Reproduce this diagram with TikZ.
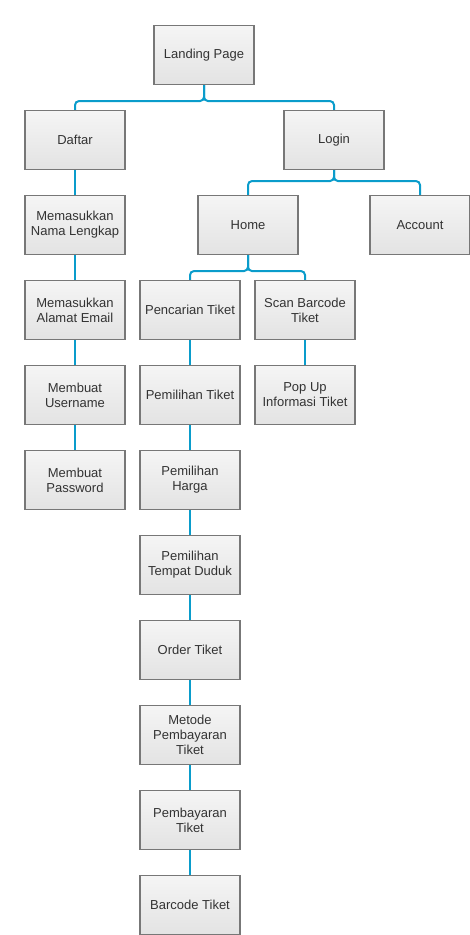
\documentclass[tikz,border=0pt]{standalone}
\usepackage{fontspec}
\setmainfont{Liberation Sans}
\usetikzlibrary{positioning}
\definecolor{linkblue}{HTML}{0A9CCB}
\definecolor{boxline}{HTML}{777777}
\definecolor{boxtext}{HTML}{333333}

\begin{document}
\begin{tikzpicture}[
	x=1pt, y=1pt,
	node distance=24.9pt and 15pt,
	box/.style = {draw=boxline, line width=1.1pt, top color=black!4, bottom color=black!11,
		minimum width=100pt, minimum height=59pt, inner sep=2pt, align=center,
		text=boxtext, font=\fontsize{13}{15}\selectfont},
	link/.style = {draw=linkblue, line width=2pt, rounded corners=4pt}
     ]
		\useasboundingbox (0,0) rectangle (470,-935);
%
		\node[box] (land) at (204,-55) {Landing Page};
		\node[box] (daftar) at (75,-140) {Daftar};
		\node[box] (login) at (334,-140) {Login};
		\node[box] (home) at (248,-225) {Home};
		\node[box] (account) at (420,-225) {Account};
%
		\node[box, below=of daftar] (nama) {Memasukkan\\Nama Lengkap};
		\node[box, below=of nama] (email) {Memasukkan\\Alamat Email};
		\node[box, below=of email] (user) {Membuat\\Username};
		\node[box, below=of user] (pass) {Membuat\\Password};
%
		\node[box] (cari) at (190,-310) {Pencarian Tiket};
		\node[box] (scan) at (305,-310) {Scan Barcode\\Tiket};
		\node[box, below=of scan] (popup) {Pop Up\\Informasi Tiket};
%
		\node[box, below=of cari] (pilih) {Pemilihan Tiket};
		\node[box, below=of pilih] (harga) {Pemilihan\\Harga};
		\node[box, below=of harga] (duduk) {Pemilihan\\Tempat Duduk};
		\node[box, below=of duduk] (order) {Order Tiket};
		\node[box, below=of order] (metode) {Metode\\Pembayaran\\Tiket};
		\node[box, below=of metode] (bayar) {Pembayaran\\Tiket};
		\node[box, below=of bayar] (barcode) {Barcode Tiket};
%
		\draw[link] (land.south) -- ++(0,-16) -| (daftar.north);
		\draw[link] (land.south) -- ++(0,-16) -| (login.north);
		\draw[link] (login.south) -- ++(0,-11) -| (home.north);
		\draw[link] (login.south) -- ++(0,-11) -| (account.north);
		\draw[link] (home.south) -- ++(0,-16) -| (cari.north);
		\draw[link] (home.south) -- ++(0,-16) -| (scan.north);
%
		\draw[link] (daftar) -- (nama);
		\draw[link] (nama) -- (email);
		\draw[link] (email) -- (user);
		\draw[link] (user) -- (pass);
		\draw[link] (scan) -- (popup);
		\draw[link] (cari) -- (pilih);
		\draw[link] (pilih) -- (harga);
		\draw[link] (harga) -- (duduk);
		\draw[link] (duduk) -- (order);
		\draw[link] (order) -- (metode);
		\draw[link] (metode) -- (bayar);
		\draw[link] (bayar) -- (barcode);
		
\end{tikzpicture}
\end{document}
